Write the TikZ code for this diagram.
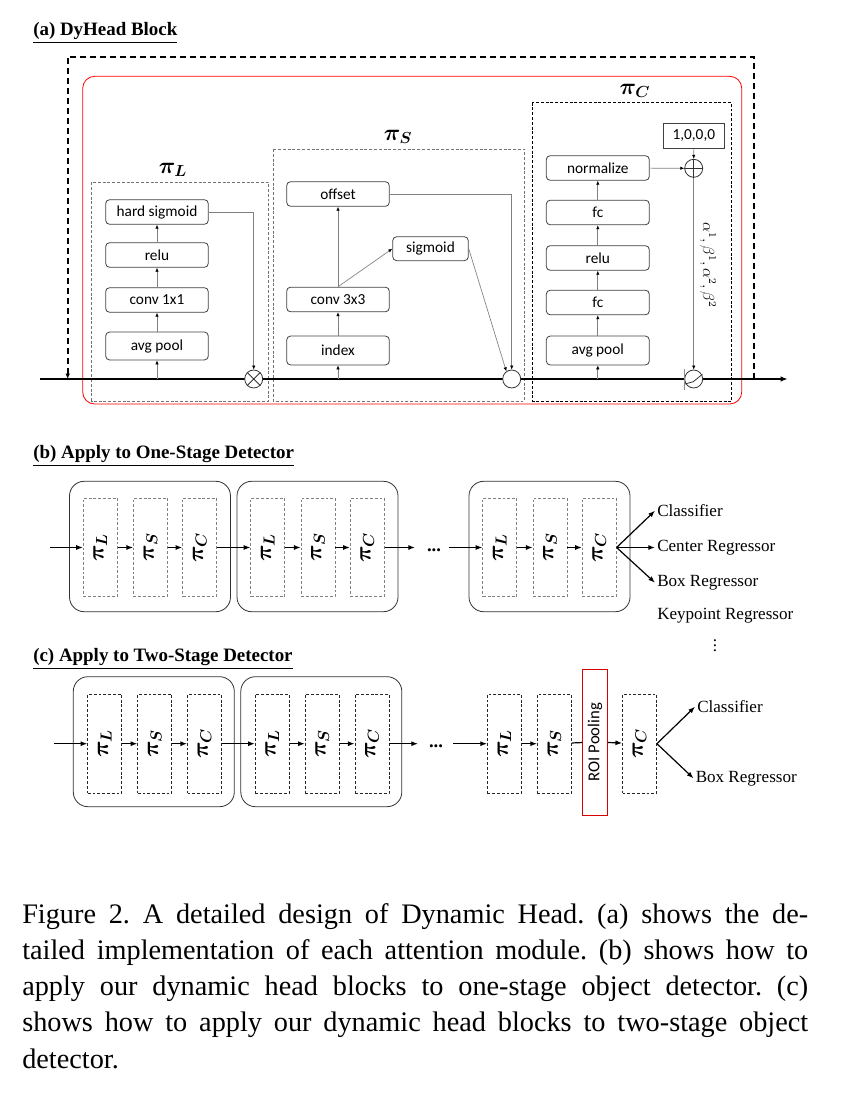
\documentclass[tikz,border=0pt]{standalone}
\usepackage{amsmath,amssymb,bm}
\usepackage{graphicx}
\usepackage{fontspec}
\setmainfont{Liberation Serif}
\newfontfamily\calibri{Carlito}
\usetikzlibrary{arrows.meta}
\frenchspacing

\begin{document}
\begin{tikzpicture}[x=0.75pt,y=-0.75pt,
    op/.style={draw=black!75, line width=0.6pt, rounded corners=3pt, minimum width=77pt, minimum height=18.5pt, inner sep=0pt, font=\calibri\fontsize{11.5}{13}\selectfont},
    junc/.style={draw=black!80, line width=0.6pt, circle, fill=white, minimum size=13.5pt, inner sep=0pt},
    link/.style={black!50, line width=0.5pt, -{Latex[length=3pt,width=2.6pt,color=black]}},
    flow/.style={line width=0.9pt, -{Latex[length=5pt,width=3.8pt]}},
    dashframe/.style={dash pattern=on 2.2pt off 1.4pt, line width=0.6pt},
    block/.style={draw=black!80, line width=0.6pt, rounded corners=11pt},
    slot/.style={draw, dashframe, minimum width=25.5pt, minimum height=74pt, inner sep=0pt, font=\fontsize{17}{19}\selectfont},
    lbl/.style={font=\fontsize{12.8}{15}\selectfont, anchor=west, inner sep=1.5pt},
    head/.style={font=\bfseries\fontsize{14.2}{16}\selectfont, anchor=base west, inner sep=0pt},
    pilbl/.style={font=\fontsize{16.5}{18}\selectfont}
]
\useasboundingbox (0,0) rectangle (840,1094);

% (a) DyHead block
\node[head] (ttlA) at (33,36) {\underline{(a) DyHead Block}};
\draw[red, line width=0.6pt, rounded corners=9pt] (82.7,76.3) rectangle (741.7,404);
\draw[dashframe, black!55] (91.7,182.3) rectangle (268.7,401);
\draw[dashframe, black!55] (273.3,149) rectangle (524.3,401);
\draw[dashframe] (532.3,102.7) rectangle (731.7,401);
\node[pilbl] (piL) at (173,170) {$\bm{\pi_L}$};
\node[pilbl] (piS) at (398,137) {$\bm{\pi_S}$};
\node[pilbl] (piC) at (635,91) {$\bm{\pi_C}$};

\coordinate (in) at (40,379);
\coordinate (out) at (788,379);
\draw[line width=1.5pt, -{Latex[length=5.5pt,width=4pt]}] (in) -- (out);
\coordinate (skipA) at (754,379);
\coordinate (skipB) at (67.7,379);
\draw[line width=1.4pt, dash pattern=on 4.5pt off 3pt, -{Latex[length=4pt,width=3.5pt]}] (skipA) -- ++(0,-322.3) -| (skipB);

% pi_L
\node[op] (hs) at (157,212) {hard sigmoid};
\node[op] (reL) at (157,255) {relu};
\node[op] (c11) at (157,300) {conv 1x1};
\node[op, minimum height=21pt] (apL) at (157,346) {avg pool};
\node[junc] (mul) at (253.7,379) {};
\draw[black!80, line width=0.6pt] (mul.45) -- (mul.225) (mul.135) -- (mul.315);
\draw[link] (apL |- in) -- (apL);
\draw[link] (apL) -- (c11);
\draw[link] (c11) -- (reL);
\draw[link] (reL) -- (hs);
\draw[link] (hs.east) -| (mul);

% pi_S
\node[op] (off) at (338,194) {offset};
\node[op] (c33) at (338,299.5) {conv 3x3};
\node[op, minimum height=21.7pt] (idx) at (338,350.5) {index};
\node[op, minimum width=56.7pt, minimum height=18pt] (sig) at (430.5,248.7) {sigmoid};
\node[junc] (agg) at (511.7,379) {};
\draw[link] (idx |- in) -- (idx);
\draw[link] (idx) -- (c33);
\draw[link] (c33.north) -- (off);
\draw[link] (c33.north) -- (sig.west);
\draw[link] (off.east) -| (agg);
\draw[link] (sig.east) -- (agg.125);

% pi_C
\node[op, minimum width=77.3pt] (nrm) at (597.8,168) {normalize};
\node[op, minimum width=77.3pt] (fcB) at (597.8,212.5) {fc};
\node[op, minimum width=77.3pt] (reC) at (597.8,258) {relu};
\node[op, minimum width=77.3pt] (fcA) at (597.8,302.5) {fc};
\node[op, minimum width=77.3pt, minimum height=21.7pt] (apC) at (597.8,350.5) {avg pool};
\node[draw=black!75, line width=0.6pt, minimum width=45.8pt, minimum height=19.3pt, inner sep=0pt, font=\calibri\fontsize{11.5}{13}\selectfont] (init) at (693.8,136) {1,0,0,0};
\node[junc] (add) at (693.7,168.3) {};
\draw[black!80, line width=0.6pt] (add.north) -- (add.south) (add.east) -- (add.west);
\node[junc] (act) at (693.7,379) {};
\draw[black!45, line width=0.5pt] (684,369) -- (684,390);
\draw[black!80, line width=0.6pt] (685,384) -- (693.3,381.7) -- (702.3,374.3);
\draw[link] (apC |- in) -- (apC);
\draw[link] (apC) -- (fcA);
\draw[link] (fcA) -- (reC);
\draw[link] (reC) -- (fcB);
\draw[link] (fcB) -- (nrm);
\draw[link] (nrm) -- (add);
\draw[link] (init) -- (add);
\draw[link] (add) -- (act);
\node[rotate=-90, font=\fontsize{12}{14}\selectfont] (coef) at (708,265) {$\alpha^1,\beta^1,\alpha^2,\beta^2$};

% (b) one-stage detector
\node[head] (ttlB) at (33,458.5) {\underline{(b) Apply to One-Stage Detector}};
\foreach \dx/\k in {0/1,167.5/2,399.5/3} {
  \draw[block] (69.5+\dx,481.3) rectangle (230.5+\dx,611.7);
  \node[slot, draw=black!50] (bL\k) at (100.3+\dx,547.5) {\rotatebox{90}{$\bm{\pi_L}$}};
  \node[slot, draw=black!50] (bS\k) at (150.5+\dx,547.5) {\rotatebox{90}{$\bm{\pi_S}$}};
  \node[slot, draw=black!50] (bC\k) at (199.7+\dx,547.5) {\rotatebox{90}{$\bm{\pi_C}$}};
  \draw[flow] (bL\k) -- (bS\k);
  \draw[flow] (bS\k) -- (bC\k);
}
\coordinate (bin) at (50,547.5);
\coordinate (bout) at (415,547.5);
\coordinate (bre) at (449.3,547.5);
\node[font=\bfseries\fontsize{14}{16}\selectfont, inner sep=0pt] (bdots) at (434,550) {...};
\draw[flow] (bin) -- (bL1);
\draw[flow] (bC1) -- (bL2);
\draw[flow] (bC2) -- (bout);
\draw[flow] (bre) -- (bL3);
\node[lbl] (cls1) at (655,510.7) {Classifier};
\node[lbl] (ctr) at (655,547.5) {Center Regressor};
\node[lbl] (box1) at (655,582.7) {Box Regressor};
\node[lbl] (kpt) at (655,616) {Keypoint Regressor};
\node[font=\fontsize{12.8}{15}\selectfont] (vd) at (715,641.7) {$\vdots$};
\draw[flow] (bC3.east) -- (cls1.west);
\draw[flow] (bC3.east) -- (ctr.west);
\draw[flow] (bC3.east) -- (box1.west);

% (c) two-stage detector
\node[head] (ttlC) at (33,661.5) {\underline{(c) Apply to Two-Stage Detector}};
\foreach \dx/\k in {0/1,167.5/2} {
  \draw[block] (73.3+\dx,676.7) rectangle (234.3+\dx,806.7);
  \node[slot, draw=black!85, minimum height=74.5pt] (cL\k) at (104.7+\dx,743.7) {\rotatebox{90}{$\bm{\pi_L}$}};
  \node[slot, draw=black!85, minimum height=74.5pt] (cS\k) at (154.7+\dx,743.7) {\rotatebox{90}{$\bm{\pi_S}$}};
  \node[slot, draw=black!85, minimum height=74.5pt] (cC\k) at (204.5+\dx,743.7) {\rotatebox{90}{$\bm{\pi_C}$}};
  \draw[flow] (cL\k) -- (cS\k);
  \draw[flow] (cS\k) -- (cC\k);
}
\node[slot, draw=black!85, minimum height=74.5pt] (cL3) at (504.35,743.7) {\rotatebox{90}{$\bm{\pi_L}$}};
\node[slot, draw=black!85, minimum height=74.5pt] (cS3) at (554.35,743.7) {\rotatebox{90}{$\bm{\pi_S}$}};
\node[draw=red!85!black, line width=0.7pt, minimum width=18.5pt, minimum height=109.5pt, inner sep=0pt, font=\calibri\fontsize{12.5}{14}\selectfont] (roi) at (595,742) {\rotatebox{90}{ROI Pooling}};
\node[slot, draw=black!85, minimum height=74.5pt] (cC3) at (639.5,743.7) {\rotatebox{90}{$\bm{\pi_C}$}};
\coordinate (cin) at (54.3,743.7);
\coordinate (cout) at (418,743.7);
\coordinate (cre) at (453.3,743.7);
\node[font=\bfseries\fontsize{14}{16}\selectfont, inner sep=0pt] (cdots) at (436,746.5) {...};
\draw[flow] (cin) -- (cL1);
\draw[flow] (cC1) -- (cL2);
\draw[flow] (cC2) -- (cout);
\draw[flow] (cre) -- (cL3);
\draw[flow] (cL3) -- (cS3);
\draw[line width=0.9pt] (cS3) -- (roi);
\draw[flow] (roi) -- (cC3);
\node[lbl] (cls2) at (695,706.7) {Classifier};
\node[lbl] (box2) at (693.5,778.3) {Box Regressor};
\draw[flow] (cC3.east) -- (cls2.west);
\draw[flow] (cC3.east) -- (box2.west);

% caption
\node[anchor=north west, inner sep=0pt, text width=589.5pt, align=justify, font=\fontsize{21.2}{27.2}\selectfont] (cap) at (22,903) {Figure 2. A detailed design of Dynamic Head. (a) shows the de-\linebreak tailed implementation of each attention module. (b) shows how to\linebreak apply our dynamic head blocks to one-stage object detector. (c)\linebreak shows how to apply our dynamic head blocks to two-stage object\linebreak detector.};
\end{tikzpicture}
\end{document}
